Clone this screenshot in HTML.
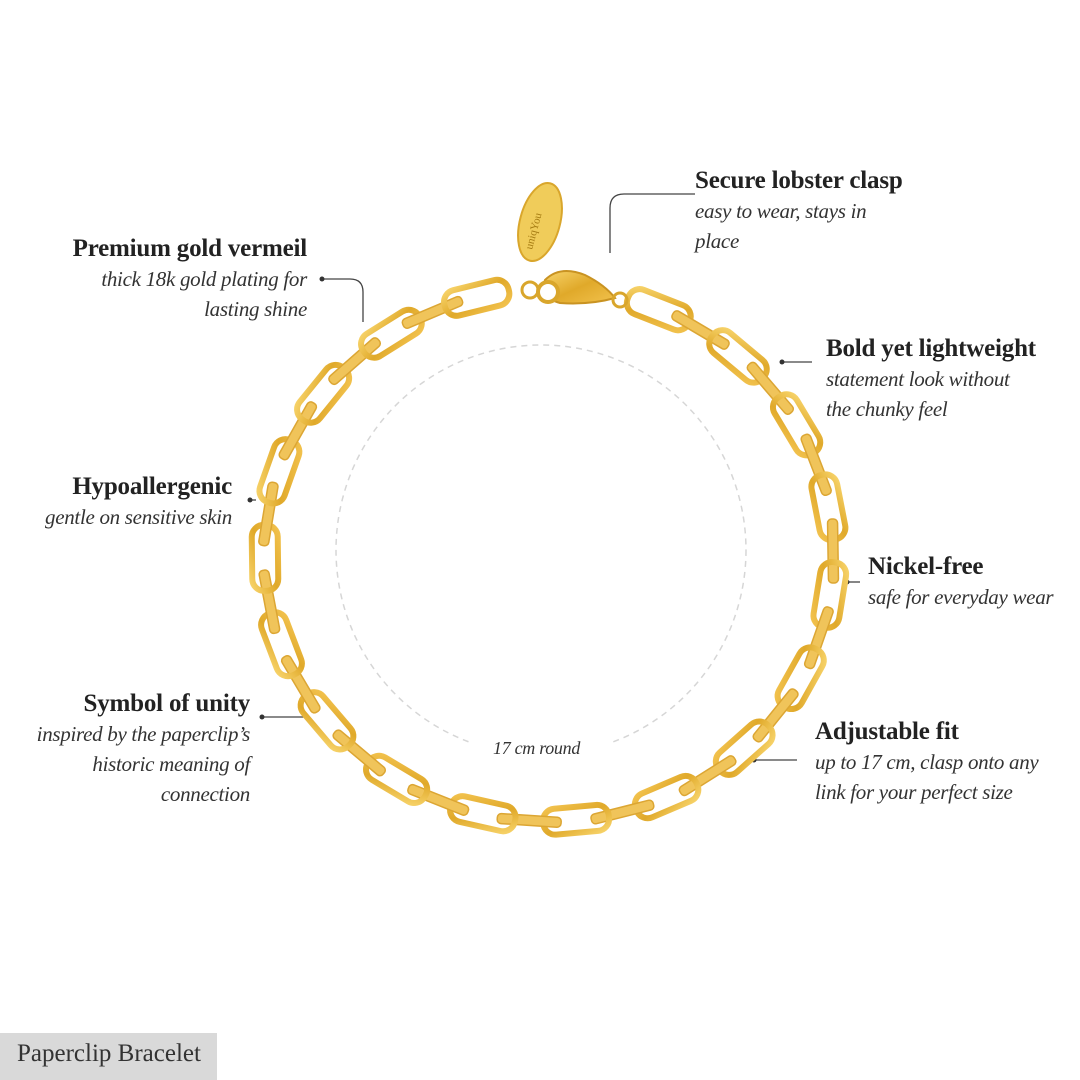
<!DOCTYPE html>
<html><head><meta charset="utf-8"><style>
body{margin:0;width:1080px;height:1080px;background:#fff;position:relative;overflow:hidden;font-family:"Liberation Serif",serif;color:#222}
.t{position:absolute;white-space:nowrap}
.h{font-weight:bold;font-size:25px;line-height:30px;letter-spacing:-0.2px}
.i{font-style:italic;font-size:21px;line-height:30px;color:#333;letter-spacing:-0.3px}
.r{text-align:right}
svg{position:absolute;left:0;top:0}
</style></head><body>
<svg width="1080" height="1080" id="s">
<defs>
<linearGradient id="g" x1="0" y1="0" x2="1" y2="1">
<stop offset="0" stop-color="#f7d36a"/><stop offset=".5" stop-color="#e0a92a"/><stop offset="1" stop-color="#f2c24e"/></linearGradient>
</defs>
<circle cx="541" cy="550" r="205" fill="none" stroke="#d6d6d6" stroke-width="1.5" stroke-dasharray="6 5"/>
<rect x="470" y="733" width="140" height="30" fill="#fff"/>
<g fill="none" stroke="#444" stroke-width="1.3">
<path d="M322 279 H350 Q363 279 363 292 V322"/>
<path d="M695 194 H624 Q610 194 610 208 V253"/>
<path d="M782 362 H812"/>
<path d="M248 500 H256"/>
<path d="M845 582 H860"/>
<path d="M260 717 H307"/>
<path d="M752 760 H797"/>
</g>
<g fill="#333"><circle cx="322" cy="279" r="2.5"/><circle cx="782" cy="362" r="2.5"/><circle cx="250" cy="500" r="2.5"/><circle cx="847" cy="582" r="2.5"/><circle cx="262" cy="717" r="2.5"/><circle cx="754" cy="760" r="2.5"/></g>
<g id="links"></g>
<ellipse cx="540" cy="222" rx="20" ry="40" transform="rotate(15 540 222)" fill="#f0cc5a" stroke="#d9a62c" stroke-width="2"/>
<text x="0" y="0" transform="translate(532 250) rotate(-75)" font-size="11" fill="#a67c12" font-family="Liberation Serif">uniqYou</text>
<path d="M545 280 Q560 265 585 275 Q605 285 615 298 Q590 305 560 303 Q540 298 545 280Z" fill="url(#g)" stroke="#c99322" stroke-width="2"/>
<circle cx="548" cy="292" r="10" fill="#fff" stroke="#d9a62c" stroke-width="4"/>
<circle cx="620" cy="300" r="7" fill="none" stroke="#d9a62c" stroke-width="3"/>
<circle cx="530" cy="290" r="8" fill="none" stroke="#d9a62c" stroke-width="3"/>
</svg>
<script>
var g=document.getElementById('links'),cx=549,cy=555,rx=284,ry=266,h='';
var a0=-72,a1=260,n=35;
for(var k=0;k<n;k++){var a=(a0+(a1-a0)*(k+0.5)/n)*Math.PI/180;
var x=cx+rx*Math.cos(a),y=cy+ry*Math.sin(a);
var tx=-rx*Math.sin(a),ty=ry*Math.cos(a),ang=Math.atan2(ty,tx)*180/Math.PI;
if(k%2==0){h+='<rect x="-33" y="-13" width="66" height="26" rx="12" transform="translate('+x.toFixed(1)+' '+y.toFixed(1)+') rotate('+ang.toFixed(1)+')" fill="none" stroke="url(#g)" stroke-width="6"/>';}
else{h+='<rect x="-32" y="-5" width="64" height="10" rx="4" transform="translate('+x.toFixed(1)+' '+y.toFixed(1)+') rotate('+ang.toFixed(1)+')" fill="#f0c45a" stroke="#dca633" stroke-width="1.5"/>';}}
g.innerHTML=h;
</script>
<div class="t r" style="right:773px;top:234px"><div class="h">Premium gold vermeil</div><div class="i">thick 18k gold plating for<br>lasting shine</div></div>
<div class="t" style="left:695px;top:166px"><div class="h">Secure lobster clasp</div><div class="i">easy to wear, stays in<br>place</div></div>
<div class="t" style="left:826px;top:334px"><div class="h">Bold yet lightweight</div><div class="i">statement look without<br>the chunky feel</div></div>
<div class="t r" style="right:848px;top:472px"><div class="h">Hypoallergenic</div><div class="i">gentle on sensitive skin</div></div>
<div class="t" style="left:868px;top:552px"><div class="h">Nickel-free</div><div class="i">safe for everyday wear</div></div>
<div class="t r" style="right:830px;top:689px"><div class="h">Symbol of unity</div><div class="i">inspired by the paperclip’s<br>historic meaning of<br>connection</div></div>
<div class="t" style="left:815px;top:717px"><div class="h">Adjustable fit</div><div class="i">up to 17 cm, clasp onto any<br>link for your perfect size</div></div>
<div class="t i" style="left:493px;top:733px;font-size:18px">17 cm round</div>
<div style="position:absolute;left:0;top:1033px;width:217px;height:47px;background:#d9d9d9"></div>
<div class="t" style="left:17px;top:1040px;font-size:25px;color:#333">Paperclip Bracelet</div>
</body></html>
